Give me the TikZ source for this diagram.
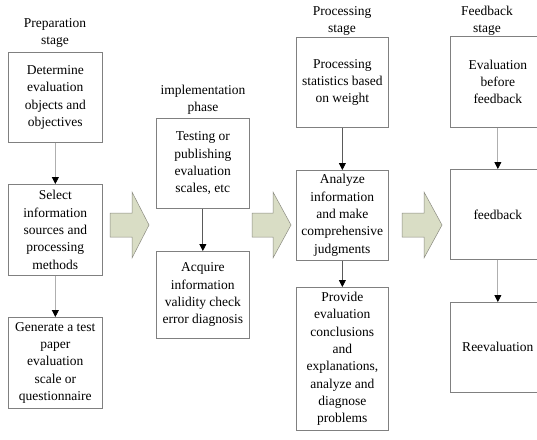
\documentclass[tikz,border=0pt]{standalone}
\usepackage{fontspec}
\setmainfont{Liberation Serif}
\usetikzlibrary{arrows.meta}
\definecolor{boxline}{RGB}{128,128,128}
\definecolor{lightlink}{RGB}{175,175,175}
\definecolor{darklink}{RGB}{90,90,90}
\definecolor{bigarrowfill}{RGB}{217,221,197}
\definecolor{bigarrowline}{RGB}{140,140,130}
\begin{document}
\begin{tikzpicture}[x=1pt,y=-1pt,
  txt/.style={font=\fontsize{13.5}{17.3}\selectfont},
  stagebox/.style={txt, draw=boxline, line width=0.7pt, anchor=north west,
    inner sep=0pt, align=center, minimum width=#1},
  stagebox/.default=94pt,
  heading/.style={txt, align=center, inner sep=0pt},
  conn/.style={line width=0.8pt, -{Triangle[width=7pt,length=7pt,color=black]}},
  bigarrow/.style={fill=bigarrowfill, draw=bigarrowline, line width=0.5pt, line join=miter}]
\clip (0,0) rectangle (537,439);
\fill[white] (0,0) rectangle (537,439);

% stage headings
\node[heading] (hprep) at (55,33) {Preparation\\stage};
\node[heading] (himpl) at (203,100) {implementation\\phase};
\node[heading] (hproc) at (342,21) {Processing\\stage};
\node[heading] (hfeed) at (487,21) {Feedback\\stage};

% preparation stage
\node[stagebox, minimum height=90pt] (a1) at (8,52)
  {Determine\\evaluation\\objects and\\objectives};
\node[stagebox, minimum height=91pt] (a2) at (8,184)
  {Select\\information\\sources and\\processing\\methods};
\node[stagebox, minimum height=91pt] (a3) at (8,317)
  {Generate a test\\paper\\evaluation\\scale or\\questionnaire};

% implementation phase
\node[stagebox=93pt, minimum height=90pt] (b1) at (156,118)
  {Testing or\\publishing\\evaluation\\scales, etc};
\node[stagebox=93pt, minimum height=87pt] (b2) at (156,251)
  {Acquire\\information\\validity check\\error diagnosis};

% processing stage
\node[stagebox=92pt, minimum height=90pt] (c1) at (296,37)
  {Processing\\statistics based\\on weight};
\node[stagebox=92pt, minimum height=90pt] (c2) at (296,170)
  {Analyze\\information\\and make\\comprehensive\\judgments};
\node[stagebox=92pt, minimum height=143pt] (c3) at (296,287)
  {Provide\\evaluation\\conclusions\\and\\explanations,\\analyze and\\diagnose\\problems};

% feedback stage
\node[stagebox=95pt, minimum height=91pt] (d1) at (450,36)
  {Evaluation\\before\\feedback};
\node[stagebox=95pt, minimum height=90pt] (d2) at (450,169) {feedback};
\node[stagebox=95pt, minimum height=90pt] (d3) at (450,302) {Reevaluation};

% links inside each stage
\draw[conn, lightlink] (a1.south) -- (a2.north);
\draw[conn, lightlink] (a2.south) -- (a3.north);
\draw[conn, darklink] (b1.south) -- (b2.north);
\draw[conn, darklink] (c1.south) -- (c2.north);
\draw[conn, darklink] (c2.south) -- (c3.north);
\draw[conn, lightlink] (d1.south) -- (d2.north);
\draw[conn, lightlink] (d2.south) -- (d3.north);

% block arrows between stages
\foreach \bx/\hx/\tx in {110/132/149, 252/273/291, 402/424/442}{
  \draw[bigarrow] (\bx,213) -- (\hx,213) -- (\hx,192) -- (\tx,225)
    -- (\hx,258) -- (\hx,237) -- (\bx,237) -- cycle;
}
\end{tikzpicture}
\end{document}
